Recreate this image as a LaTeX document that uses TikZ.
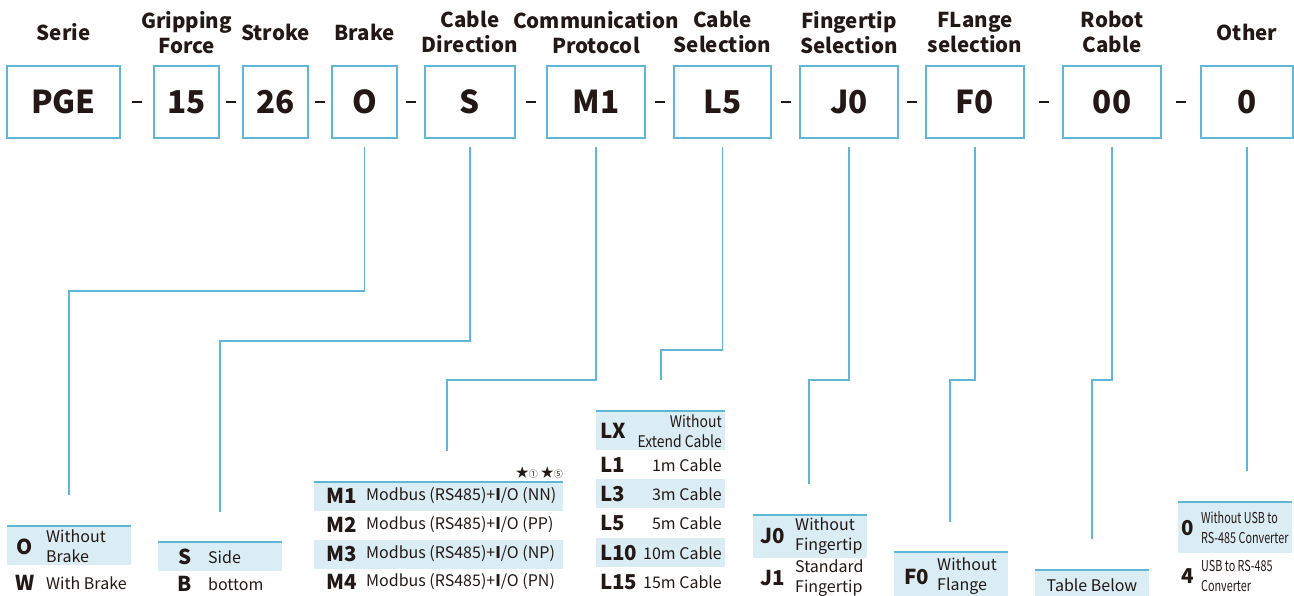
\documentclass[tikz,border=0pt]{standalone}
\usepackage{fontspec}
\setmainfont{Noto Sans CJK SC}
\newfontfamily\narrowfont{Noto Sans CJK SC}[FakeStretch=0.72]
\newfontfamily\semifont{Noto Sans CJK SC}[FakeStretch=0.87]
\usetikzlibrary{calc}
\definecolor{lineblue}{RGB}{95,182,215}
\definecolor{rowfill}{RGB}{218,236,244}
\definecolor{ink}{RGB}{35,24,21}

\begin{document}
\begin{tikzpicture}[%
      x=1pt, y=-1pt,
      every node/.style={text=ink, inner sep=0pt},
      codebox/.style={draw=lineblue, line width=1.5pt, minimum height=72pt,
        font=\fontsize{31.5}{31.5}\selectfont\bfseries},
      headtext/.style={align=center, font=\fontsize{20.5}{25}\selectfont\bfseries},
      dashsign/.style={fill=ink, minimum width=10pt, minimum height=1.8pt},
      conn/.style={draw=lineblue, line width=1.5pt},
      topline/.style={draw=lineblue, line width=1.8pt},
      optcode/.style={font=\fontsize{20.5}{20}\selectfont\bfseries},
      optdesc/.style={align=left, font=\fontsize{16}{20}\selectfont},
      narrowdesc/.style={align=left, font=\narrowfont\fontsize{15}{20}\selectfont},
      ]
      \useasboundingbox (0,0) rectangle (1294,596);

      % code boxes
      \node[codebox, minimum width=113pt] (serie)  at (63.5,102)  {PGE};
      \node[codebox, minimum width=65pt]  (force)  at (186.5,102) {15};
      \node[codebox, minimum width=65pt]  (stroke) at (275.5,102) {26};
      \node[codebox, minimum width=65pt]  (brake)  at (364.5,102) {O};
      \node[codebox, minimum width=90pt]  (dir)    at (470,102)   {S};
      \node[codebox, minimum width=98pt]  (proto)  at (596,102)   {M1};
      \node[codebox, minimum width=97pt]  (csel)   at (722.5,102) {L5};
      \node[codebox, minimum width=98pt]  (finger) at (849,102)   {J0};
      \node[codebox, minimum width=98pt]  (flange) at (975,102)   {F0};
      \node[codebox, minimum width=98pt]  (robot)  at (1112,102)  {00};
      \node[codebox, minimum width=92pt]  (other)  at (1247,102)  {0};

      \node[dashsign] (d1)  at ($(serie.east)!0.5!(force.west)$) {};
      \node[dashsign] (d2)  at ($(force.east)!0.5!(stroke.west)$) {};
      \node[dashsign] (d3)  at ($(stroke.east)!0.5!(brake.west)$) {};
      \node[dashsign] (d4)  at ($(brake.east)!0.5!(dir.west)$) {};
      \node[dashsign] (d5)  at ($(dir.east)!0.5!(proto.west)$) {};
      \node[dashsign] (d6)  at ($(proto.east)!0.5!(csel.west)$) {};
      \node[dashsign] (d7)  at ($(csel.east)!0.5!(finger.west)$) {};
      \node[dashsign] (d8)  at ($(finger.east)!0.5!(flange.west)$) {};
      \node[dashsign] (d9)  at ($(flange.east)!0.5!(robot.west)$) {};
      \node[dashsign] (d10) at ($(robot.east)!0.5!(other.west)$) {};

      % headings
      \node[headtext] (hserie)  at ([yshift=33pt]serie.north)  {Serie};
      \node[headtext] (hforce)  at ([yshift=33pt]force.north)  {Gripping\\Force};
      \node[headtext] (hstroke) at ([yshift=33pt]stroke.north) {Stroke};
      \node[headtext] (hbrake)  at ([yshift=33pt]brake.north)  {Brake};
      \node[headtext] (hdir)    at ([yshift=33pt]dir.north)    {Cable\\Direction};
      \node[headtext] (hproto)  at ([yshift=33pt]proto.north)  {Communication\\Protocol};
      \node[headtext] (hcsel)   at ([yshift=33pt]csel.north)   {Cable\\Selection};
      \node[headtext] (hfinger) at ([yshift=33pt]finger.north) {Fingertip\\Selection};
      \node[headtext] (hflange) at ([yshift=33pt]flange.north) {FLange\\selection};
      \node[headtext] (hrobot)  at ([yshift=33pt]robot.north)  {Robot\\Cable};
      \node[headtext] (hother)  at ([yshift=33pt]other.north)  {Other};

      % connectors
      \coordinate (bkA) at (69,291);   \coordinate (bkB) at (69,495);
      \coordinate (drA) at (220,341);  \coordinate (drB) at (220,512);
      \coordinate (prA) at (447,380);  \coordinate (prB) at (447,451);
      \coordinate (csA) at (661,350);  \coordinate (csB) at (661,380);
      \coordinate (fiA) at (809,380);  \coordinate (fiB) at (809,484);
      \coordinate (flA) at (950,380);  \coordinate (flB) at (950,522);
      \coordinate (rbA) at (1092,380); \coordinate (rbB) at (1092,539);
      \coordinate (otB) at (1247,471);
      \draw[conn] ([yshift=-8pt]brake.south)  |- (bkA) -- (bkB);
      \draw[conn] ([yshift=-8pt]dir.south)    |- (drA) -- (drB);
      \draw[conn] ([yshift=-8pt]proto.south)  |- (prA) -- (prB);
      \draw[conn] ([yshift=-8pt]csel.south)   |- (csA) -- (csB);
      \draw[conn] ([yshift=-8pt]finger.south) |- (fiA) -- (fiB);
      \draw[conn] ([yshift=-8pt]flange.south) |- (flA) -- (flB);
      \draw[conn] ([yshift=-8pt]robot.south)  |- (rbA) -- (rbB);
      \draw[conn] ([yshift=-8pt]other.south)  -- (otB);

      % brake
      \fill[rowfill] (7,527) rectangle (131,565);
      \draw[topline] (7,526) -- (131,526);
      \node[optcode] (bkO) at (25,547) {O};
      \node[optdesc, anchor=west] (bkOt) at (46,546) {Without\\Brake};
      \node[optcode] (bkW) at (25,583) {W};
      \node[optdesc, anchor=west] (bkWt) at (46,583) {With Brake};

      % cable direction
      \fill[rowfill] (158,543) rectangle (282,571);
      \draw[topline] (158,542) -- (282,542);
      \node[optcode] (drS) at (185,557) {S};
      \node[optdesc, anchor=west] (drSt) at (208,557) {Side};
      \node[optcode] (drB) at (185,584) {B};
      \node[optdesc, anchor=west] (drBt) at (208,584) {bottom};

      % communication protocol
      \node[anchor=east, font=\fontsize{13}{13}\selectfont] (stars) at (563,473)
        {★{\fontsize{9}{9}\selectfont①}\ ★{\fontsize{9}{9}\selectfont⑤}};
      \fill[rowfill] (314,483) rectangle (563,511);
      \fill[rowfill] (314,540) rectangle (563,569);
      \draw[topline] (314,482) -- (563,482);
      \node[optcode, anchor=west] (prM1) at (326,496) {M1};
      \node[optdesc, anchor=west] (prM1t) at (366,496) {Modbus (RS485)+\textbf{I}/O (NN)};
      \node[optcode, anchor=west] (prM2) at (326,525) {M2};
      \node[optdesc, anchor=west] (prM2t) at (366,525) {Modbus (RS485)+\textbf{I}/O (PP)};
      \node[optcode, anchor=west] (prM3) at (326,554) {M3};
      \node[optdesc, anchor=west] (prM3t) at (366,554) {Modbus (RS485)+\textbf{I}/O (NP)};
      \node[optcode, anchor=west] (prM4) at (326,582) {M4};
      \node[optdesc, anchor=west] (prM4t) at (366,582) {Modbus (RS485)+\textbf{I}/O (PN)};

      % cable selection
      \fill[rowfill] (596,412) rectangle (725,450);
      \fill[rowfill] (596,479) rectangle (725,508);
      \fill[rowfill] (596,538) rectangle (725,567);
      \draw[topline] (596,411) -- (725,411);
      \node[optcode, anchor=west] (csLX)  at (600,431) {LX};
      \node[optdesc, align=right, anchor=east, font=\semifont\fontsize{16}{20}\selectfont]
        (csLXt) at (722,431) {Without\\Extend Cable};
      \node[optcode, anchor=west] (csL1)  at (600,465) {L1};
      \node[optdesc, anchor=east] (csL1t)  at (722,465) {1m Cable};
      \node[optcode, anchor=west] (csL3)  at (600,494) {L3};
      \node[optdesc, anchor=east] (csL3t)  at (722,494) {3m Cable};
      \node[optcode, anchor=west] (csL5)  at (600,523) {L5};
      \node[optdesc, anchor=east] (csL5t)  at (722,523) {5m Cable};
      \node[optcode, anchor=west] (csL10) at (600,553) {L10};
      \node[optdesc, anchor=east] (csL10t) at (722,553) {10m Cable};
      \node[optcode, anchor=west] (csL15) at (600,582) {L15};
      \node[optdesc, anchor=east] (csL15t) at (722,582) {15m Cable};

      % fingertip
      \fill[rowfill] (753,516) rectangle (867,558);
      \draw[topline] (753,515) -- (867,515);
      \node[optcode] (fiJ0) at (773,536) {J0};
      \node[optdesc, anchor=west] (fiJ0t) at (795,536) {Without\\Fingertip};
      \node[optcode] (fiJ1) at (773,578) {J1};
      \node[optdesc, anchor=west] (fiJ1t) at (795,578) {Standard\\Fingertip};

      % flange
      \fill[rowfill] (894,553) rectangle (1008,596);
      \draw[topline] (894,552) -- (1008,552);
      \node[optcode, anchor=west] (flF0) at (904,577) {F0};
      \node[optdesc, anchor=west] (flF0t) at (937,576) {Without\\Flange};

      % robot cable
      \fill[rowfill] (1035,571) rectangle (1149,596);
      \draw[topline] (1035,570) -- (1149,570);
      \node[optdesc] (rbT) at (1092,585) {Table Below};

      % other
      \fill[rowfill] (1178,503) rectangle (1292,553);
      \draw[topline] (1178,502) -- (1292,502);
      \node[optcode] (ot0) at (1188,528) {0};
      \node[narrowdesc, anchor=west] (ot0t) at (1201,528) {Without USB to\\RS-485 Converter};
      \node[optcode] (ot4) at (1188,576) {4};
      \node[narrowdesc, anchor=west] (ot4t) at (1201,576) {USB to RS-485\\Converter};
\end{tikzpicture}
\end{document}
